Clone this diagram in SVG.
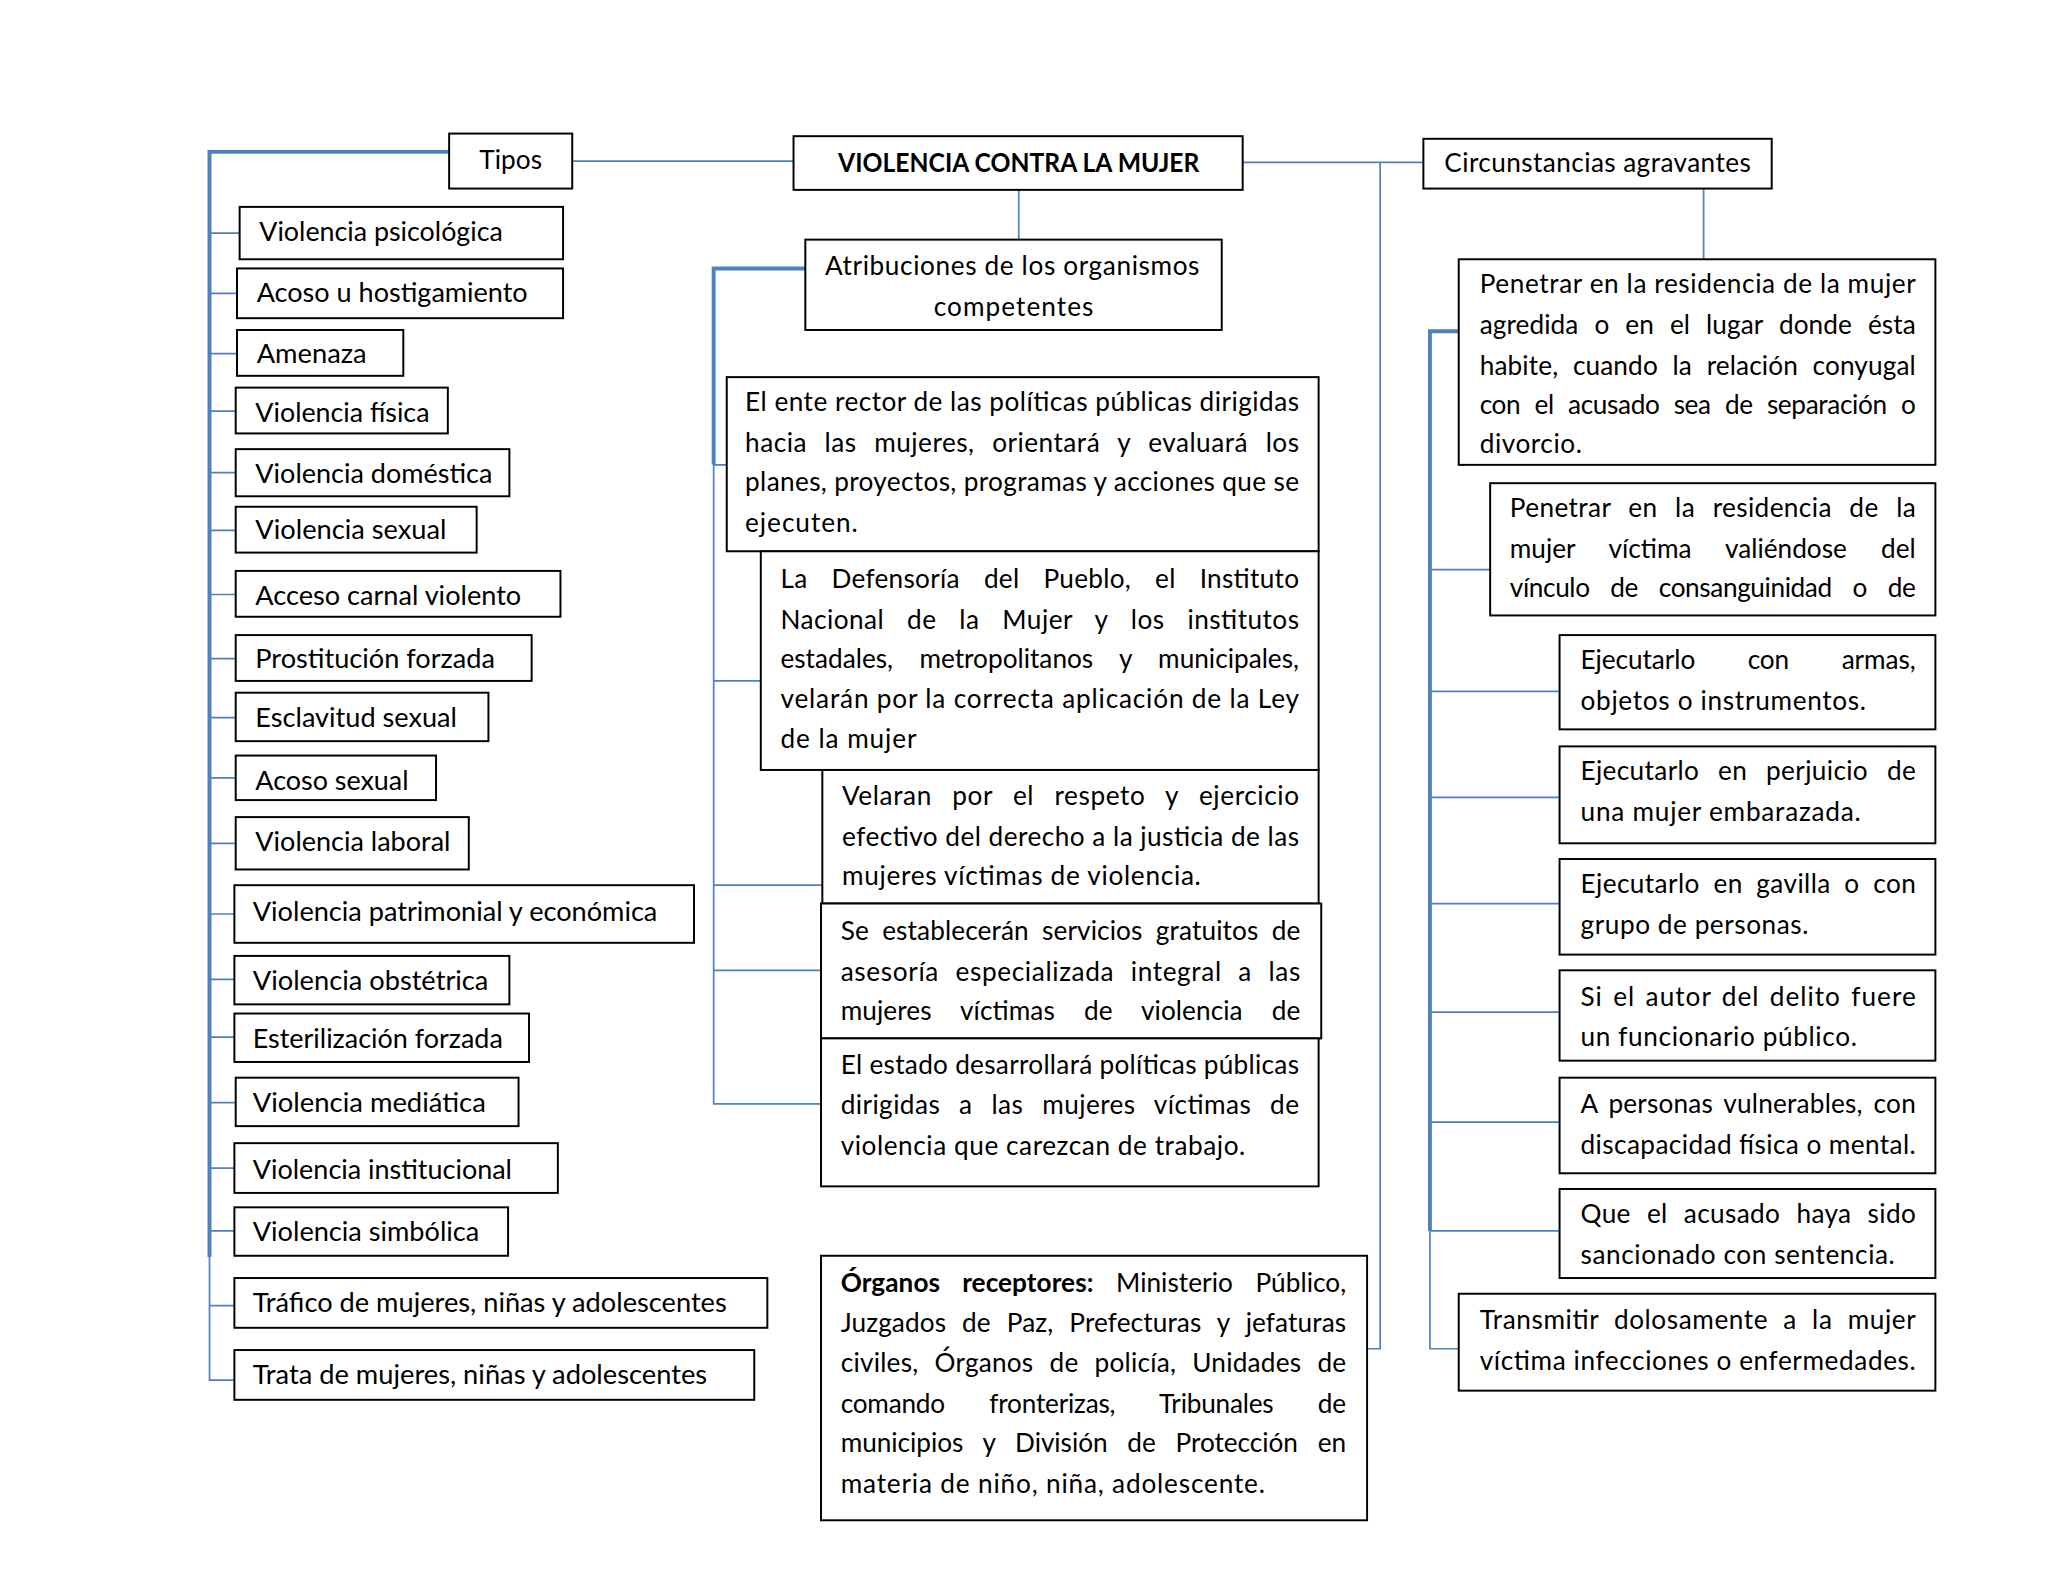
<svg xmlns="http://www.w3.org/2000/svg" width="2048" height="1582" viewBox="0 0 2048 1582">
<style>
.b{fill:#fff;stroke:#000;stroke-width:1.5}
.t{font-family:Lato,"Liberation Sans",sans-serif;font-size:20px;fill:#000}
.tb{font-weight:bold}
.c{fill:none;stroke:#4f81bd;stroke-width:1.3}
.k{fill:none;stroke:#4f81bd;stroke-width:3}
</style>
<rect width="2048" height="1582" fill="#fff"/>
<g transform="scale(1.30946)">
<g id="connectors">
<path class="k" d="M343,116 H160 V960"/>
<path class="c" d="M160,960 V1054 H179"/>
<path class="c" d="M160,178 H183 M160,224 H181 M160,270 H181 M160,314 H180 M160,361 H180 M160,405 H180 M160,454 H180 M160,503 H180 M160,548 H180 M160,594 H180 M160,644 H180 M160,698 H179 M160,748 H179 M160,792 H179 M160,842 H180 M160,892 H179 M160,940 H179 M160,997 H179"/>
<path class="c" d="M437,123 H606"/>
<path class="c" d="M949,124 H1087"/>
<path class="c" d="M778,145 V183"/>
<path class="c" d="M1301,144 V198"/>
<path class="c" d="M1054,124 V1030 H1044"/>
<path class="k" d="M615,205 H545 V355"/>
<path class="c" d="M545,355 V843 H627 M545,355 H555 M545,520 H581 M545,676 H628 M545,741 H627"/>
<path class="k" d="M1114,253 H1092 V940"/>
<path class="c" d="M1092,940 V1030 H1114 M1092,435 H1138 M1092,528 H1191 M1092,609 H1191 M1092,690 H1191 M1092,773 H1191 M1092,857 H1191 M1092,940 H1191"/>
</g>
<g id="title">
<rect class="b" x="606" y="104" width="343" height="41"/>
<text class="t tb" x="640" y="131" textLength="276" lengthAdjust="spacingAndGlyphs">VIOLENCIA CONTRA LA MUJER</text>
</g>
<g id="tipos">
<rect class="b" x="343" y="102" width="94" height="42"/>
<text class="t" x="366" y="129" textLength="48" lengthAdjust="spacing">Tipos</text>
</g>
<g id="circunstancias">
<rect class="b" x="1087" y="106" width="266" height="38"/>
<text class="t" x="1103" y="131" textLength="234" lengthAdjust="spacing">Circunstancias agravantes</text>
</g>
<g id="tipo-1"><rect class="b" x="183" y="158" width="247" height="40"/><text class="t" x="198" y="184" textLength="186" lengthAdjust="spacingAndGlyphs">Violencia psicológica</text></g>
<g id="tipo-2"><rect class="b" x="181" y="205" width="249" height="38"/><text class="t" x="196" y="231" textLength="207" lengthAdjust="spacingAndGlyphs">Acoso u hostigamiento</text></g>
<g id="tipo-3"><rect class="b" x="181" y="252" width="127" height="35"/><text class="t" x="196" y="277" textLength="84" lengthAdjust="spacingAndGlyphs">Amenaza</text></g>
<g id="tipo-4"><rect class="b" x="180" y="296" width="162" height="35"/><text class="t" x="195" y="322" textLength="133" lengthAdjust="spacingAndGlyphs">Violencia física</text></g>
<g id="tipo-5"><rect class="b" x="180" y="343" width="209" height="36"/><text class="t" x="195" y="369" textLength="181" lengthAdjust="spacingAndGlyphs">Violencia doméstica</text></g>
<g id="tipo-6"><rect class="b" x="180" y="387" width="184" height="35"/><text class="t" x="195" y="412" textLength="146" lengthAdjust="spacingAndGlyphs">Violencia sexual</text></g>
<g id="tipo-7"><rect class="b" x="180" y="436" width="248" height="35"/><text class="t" x="195" y="462" textLength="203" lengthAdjust="spacingAndGlyphs">Acceso carnal violento</text></g>
<g id="tipo-8"><rect class="b" x="180" y="485" width="226" height="35"/><text class="t" x="195" y="510" textLength="183" lengthAdjust="spacingAndGlyphs">Prostitución forzada</text></g>
<g id="tipo-9"><rect class="b" x="180" y="529" width="193" height="37"/><text class="t" x="195" y="555" textLength="154" lengthAdjust="spacingAndGlyphs">Esclavitud sexual</text></g>
<g id="tipo-10"><rect class="b" x="180" y="577" width="153" height="34"/><text class="t" x="195" y="603" textLength="117" lengthAdjust="spacingAndGlyphs">Acoso sexual</text></g>
<g id="tipo-11"><rect class="b" x="180" y="624" width="178" height="40"/><text class="t" x="195" y="650" textLength="149" lengthAdjust="spacingAndGlyphs">Violencia laboral</text></g>
<g id="tipo-12"><rect class="b" x="179" y="676" width="351" height="44"/><text class="t" x="193" y="703" textLength="309" lengthAdjust="spacingAndGlyphs">Violencia patrimonial y económica</text></g>
<g id="tipo-13"><rect class="b" x="179" y="730" width="210" height="37"/><text class="t" x="193" y="756" textLength="180" lengthAdjust="spacingAndGlyphs">Violencia obstétrica</text></g>
<g id="tipo-14"><rect class="b" x="179" y="774" width="225" height="37"/><text class="t" x="193" y="800" textLength="191" lengthAdjust="spacingAndGlyphs">Esterilización forzada</text></g>
<g id="tipo-15"><rect class="b" x="180" y="823" width="216" height="37"/><text class="t" x="193" y="849" textLength="178" lengthAdjust="spacingAndGlyphs">Violencia mediática</text></g>
<g id="tipo-16"><rect class="b" x="179" y="873" width="247" height="38"/><text class="t" x="193" y="900" textLength="198" lengthAdjust="spacingAndGlyphs">Violencia institucional</text></g>
<g id="tipo-17"><rect class="b" x="179" y="922" width="209" height="37"/><text class="t" x="193" y="948" textLength="173" lengthAdjust="spacingAndGlyphs">Violencia simbólica</text></g>
<g id="tipo-18"><rect class="b" x="179" y="976" width="407" height="38"/><text class="t" x="193" y="1002" textLength="362" lengthAdjust="spacingAndGlyphs">Tráfico de mujeres, niñas y adolescentes</text></g>
<g id="tipo-19"><rect class="b" x="179" y="1031" width="397" height="38"/><text class="t" x="193" y="1057" textLength="347" lengthAdjust="spacingAndGlyphs">Trata de mujeres, niñas y adolescentes</text></g>
<g id="atribuciones">
<rect class="b" x="615" y="183" width="318" height="69"/>
<text class="t" x="630" y="210" textLength="286" lengthAdjust="spacing">Atribuciones de los organismos</text>
<text class="t" x="713" y="241" textLength="122" lengthAdjust="spacing">competentes</text>
</g>
<g id="atrib-1">
<rect class="b" x="555" y="288" width="452" height="133"/>
<text class="t" x="569" y="314" textLength="423" lengthAdjust="spacing">El ente rector de las políticas públicas dirigidas</text>
<text class="t" x="569" y="345" textLength="423" lengthAdjust="spacing" word-spacing="8">hacia las mujeres, orientará y evaluará los</text>
<text class="t" x="569" y="375" textLength="423" lengthAdjust="spacing">planes, proyectos, programas y acciones que se</text>
<text class="t" x="569" y="406" textLength="86" lengthAdjust="spacing">ejecuten.</text>
</g>
<g id="atrib-2">
<rect class="b" x="581" y="421" width="426" height="167"/>
<text class="t" x="596" y="449" textLength="396" lengthAdjust="spacing" word-spacing="13">La Defensoría del Pueblo, el Instituto</text>
<text class="t" x="596" y="480" textLength="396" lengthAdjust="spacing" word-spacing="12">Nacional de la Mujer y los institutos</text>
<text class="t" x="596" y="510" textLength="396" lengthAdjust="spacing" word-spacing="15">estadales, metropolitanos y municipales,</text>
<text class="t" x="596" y="541" textLength="396" lengthAdjust="spacing">velarán por la correcta aplicación de la Ley</text>
<text class="t" x="596" y="571" textLength="104" lengthAdjust="spacing">de la mujer</text>
</g>
<g id="atrib-3">
<rect class="b" x="628" y="588" width="379" height="102"/>
<text class="t" x="643" y="615" textLength="349" lengthAdjust="spacing" word-spacing="10">Velaran por el respeto y ejercicio</text>
<text class="t" x="643" y="646" textLength="349" lengthAdjust="spacing">efectivo del derecho a la justicia de las</text>
<text class="t" x="643" y="676" textLength="274" lengthAdjust="spacing">mujeres víctimas de violencia.</text>
</g>
<g id="atrib-4">
<rect class="b" x="627" y="690" width="382" height="103"/>
<text class="t" x="642" y="718" textLength="351" lengthAdjust="spacing" word-spacing="5">Se establecerán servicios gratuitos de</text>
<text class="t" x="642" y="749" textLength="351" lengthAdjust="spacing" word-spacing="7">asesoría especializada integral a las</text>
<text class="t" x="642" y="779" textLength="351" lengthAdjust="spacing" word-spacing="17">mujeres víctimas de violencia de</text>
</g>
<g id="atrib-5">
<rect class="b" x="627" y="793" width="380" height="113"/>
<text class="t" x="642" y="820" textLength="350" lengthAdjust="spacing">El estado desarrollará políticas públicas</text>
<text class="t" x="642" y="851" textLength="350" lengthAdjust="spacing" word-spacing="9">dirigidas a las mujeres víctimas de</text>
<text class="t" x="642" y="882" textLength="309" lengthAdjust="spacing">violencia que carezcan de trabajo.</text>
</g>
<g id="organos">
<rect class="b" x="627" y="959" width="417" height="202"/>
<text class="t" x="642" y="987" textLength="386" lengthAdjust="spacing" word-spacing="12"><tspan class="tb">Órganos receptores:</tspan> Ministerio Público,</text>
<text class="t" x="642" y="1017" textLength="386" lengthAdjust="spacing" word-spacing="7">Juzgados de Paz, Prefecturas y jefaturas</text>
<text class="t" x="642" y="1048" textLength="386" lengthAdjust="spacing" word-spacing="7">civiles, Órganos de policía, Unidades de</text>
<text class="t" x="642" y="1079" textLength="386" lengthAdjust="spacing" word-spacing="29">comando fronterizas, Tribunales de</text>
<text class="t" x="642" y="1109" textLength="386" lengthAdjust="spacing" word-spacing="10">municipios y División de Protección en</text>
<text class="t" x="642" y="1140" textLength="324" lengthAdjust="spacing">materia de niño, niña, adolescente.</text>
</g>
<g id="agrav-1">
<rect class="b" x="1114" y="198" width="364" height="157"/>
<text class="t" x="1130" y="224" textLength="333" lengthAdjust="spacing">Penetrar en la residencia de la mujer</text>
<text class="t" x="1130" y="255" textLength="333" lengthAdjust="spacing" word-spacing="7">agredida o en el lugar donde ésta</text>
<text class="t" x="1130" y="286" textLength="333" lengthAdjust="spacing" word-spacing="6">habite, cuando la relación conyugal</text>
<text class="t" x="1130" y="316" textLength="333" lengthAdjust="spacing" word-spacing="6">con el acusado sea de separación o</text>
<text class="t" x="1130" y="346" textLength="78" lengthAdjust="spacing">divorcio.</text>
</g>
<g id="agrav-2">
<rect class="b" x="1138" y="369" width="340" height="101"/>
<text class="t" x="1153" y="395" textLength="310" lengthAdjust="spacing" word-spacing="8">Penetrar en la residencia de la</text>
<text class="t" x="1153" y="426" textLength="310" lengthAdjust="spacing" word-spacing="21">mujer víctima valiéndose del</text>
<text class="t" x="1153" y="456" textLength="310" lengthAdjust="spacing" word-spacing="11">vínculo de consanguinidad o de</text>
</g>
<g id="agrav-3">
<rect class="b" x="1191" y="485" width="287" height="72"/>
<text class="t" x="1207" y="511" textLength="256" lengthAdjust="spacing" word-spacing="35">Ejecutarlo con armas,</text>
<text class="t" x="1207" y="542" textLength="218" lengthAdjust="spacing">objetos o instrumentos.</text>
</g>
<g id="agrav-4">
<rect class="b" x="1191" y="570" width="287" height="74"/>
<text class="t" x="1207" y="596" textLength="256" lengthAdjust="spacing" word-spacing="9">Ejecutarlo en perjuicio de</text>
<text class="t" x="1207" y="627" textLength="214" lengthAdjust="spacing">una mujer embarazada.</text>
</g>
<g id="agrav-5">
<rect class="b" x="1191" y="656" width="287" height="73"/>
<text class="t" x="1207" y="682" textLength="256" lengthAdjust="spacing" word-spacing="5">Ejecutarlo en gavilla o con</text>
<text class="t" x="1207" y="713" textLength="174" lengthAdjust="spacing">grupo de personas.</text>
</g>
<g id="agrav-6">
<rect class="b" x="1191" y="741" width="287" height="69"/>
<text class="t" x="1207" y="768" textLength="256" lengthAdjust="spacing" word-spacing="2">Si el autor del delito fuere</text>
<text class="t" x="1207" y="799" textLength="211" lengthAdjust="spacing">un funcionario público.</text>
</g>
<g id="agrav-7">
<rect class="b" x="1191" y="823" width="287" height="73"/>
<text class="t" x="1207" y="850" textLength="256" lengthAdjust="spacing" word-spacing="3">A personas vulnerables, con</text>
<text class="t" x="1207" y="881" textLength="256" lengthAdjust="spacing">discapacidad física o mental.</text>
</g>
<g id="agrav-8">
<rect class="b" x="1191" y="908" width="287" height="68"/>
<text class="t" x="1207" y="934" textLength="256" lengthAdjust="spacing" word-spacing="7">Que el acusado haya sido</text>
<text class="t" x="1207" y="965" textLength="240" lengthAdjust="spacing">sancionado con sentencia.</text>
</g>
<g id="agrav-9">
<rect class="b" x="1114" y="988" width="364" height="74"/>
<text class="t" x="1130" y="1015" textLength="333" lengthAdjust="spacing" word-spacing="6">Transmitir dolosamente a la mujer</text>
<text class="t" x="1130" y="1046" textLength="333" lengthAdjust="spacing">víctima infecciones o enfermedades.</text>
</g>
</g>
</svg>
